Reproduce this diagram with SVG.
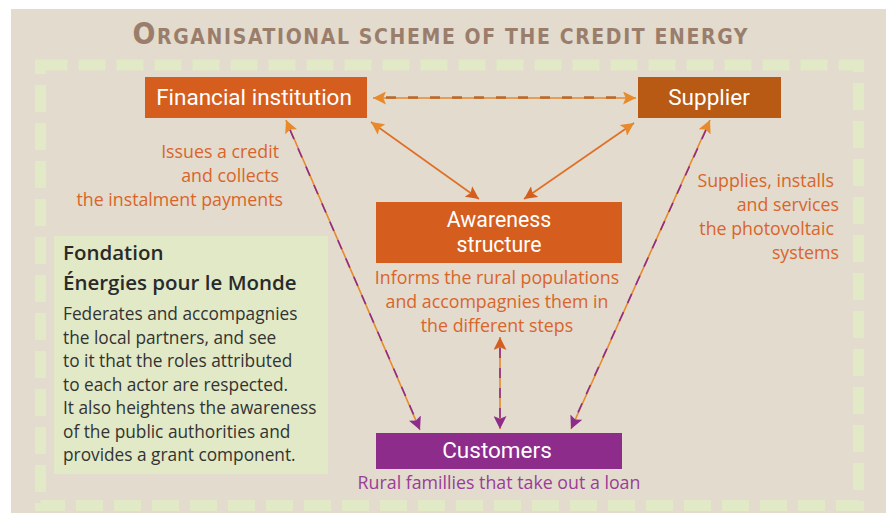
<svg xmlns="http://www.w3.org/2000/svg" width="890" height="513" viewBox="0 0 890 513">
<defs>
<style>
.lbl{font-family:Roboto,"Open Sans","Liberation Sans",sans-serif;font-size:22.5px;fill:#ffffff;text-anchor:middle}
.note{font-family:"Open Sans","Liberation Sans",sans-serif;font-size:17.8px;fill:#d9652a}
.body{font-family:"Open Sans","Liberation Sans",sans-serif;font-size:17.3px;fill:#333333}
.head{font-family:"Open Sans","Liberation Sans",sans-serif;font-size:20.5px;font-weight:600;fill:#2a2a2a}
.base{fill:none;stroke:#e8892a;stroke-width:1.6}
.pdash{fill:none;stroke:#8e2c8c;stroke-width:1.6;stroke-dasharray:10 10}
</style>
<marker id="ahO" viewBox="0 0 12 12" refX="12" refY="6" markerWidth="13" markerHeight="13" markerUnits="userSpaceOnUse" orient="auto-start-reverse"><path d="M0,0 L12,6 L0,12 L2.5,6 z" fill="#e8892a"/></marker>
<marker id="ahD" viewBox="0 0 12 12" refX="12" refY="6" markerWidth="13" markerHeight="13" markerUnits="userSpaceOnUse" orient="auto-start-reverse"><path d="M0,0 L12,6 L0,12 L2.5,6 z" fill="#d55e1e"/></marker>
<marker id="ahP" viewBox="0 0 12 12" refX="12" refY="6" markerWidth="13" markerHeight="13" markerUnits="userSpaceOnUse" orient="auto-start-reverse"><path d="M0,0 L12,6 L0,12 L2.5,6 z" fill="#8e2c8c"/></marker>
</defs>
<rect x="11" y="9" width="875" height="504" fill="#e2dbce"/>
<rect x="40.5" y="65" width="818" height="440.5" fill="none" stroke="#e1e9c6" stroke-width="11" stroke-dasharray="27 11"/>
<text x="440" y="44" text-anchor="middle" textLength="615" lengthAdjust="spacing" font-family="'Liberation Sans Narrow','DejaVu Sans Condensed',sans-serif" font-weight="bold" fill="#9a7e6b"><tspan font-size="30">O</tspan><tspan font-size="21">RGANISATIONAL SCHEME OF THE CREDIT ENERGY</tspan></text>

<g id="connectors">
<line x1="373" y1="98" x2="636" y2="98" class="base" marker-start="url(#ahO)" marker-end="url(#ahO)"/>
<line x1="386" y1="97.5" x2="624" y2="97.5" stroke="#b8682e" stroke-width="2.5" stroke-dasharray="10 12"/>
<line x1="371" y1="122" x2="479" y2="199" stroke="#df6f25" stroke-width="1.6" marker-start="url(#ahO)" marker-end="url(#ahD)"/>
<line x1="634" y1="123" x2="524" y2="199" stroke="#df6f25" stroke-width="1.6" marker-start="url(#ahO)" marker-end="url(#ahD)"/>
<line x1="286" y1="120" x2="420" y2="430" class="base" marker-start="url(#ahO)" marker-end="url(#ahP)"/>
<line x1="290" y1="130" x2="416" y2="420" class="pdash"/>
<line x1="710" y1="120" x2="571" y2="429" class="base" marker-start="url(#ahO)" marker-end="url(#ahP)"/>
<line x1="706" y1="130" x2="575" y2="419" class="pdash"/>
<line x1="500" y1="337" x2="500" y2="429" class="base" marker-start="url(#ahD)" marker-end="url(#ahP)"/>
<line x1="500" y1="348" x2="500" y2="418" class="pdash"/>
</g>

<g id="financial">
<rect x="145" y="77" width="222" height="41" fill="#d55e1e"/>
<text x="254" y="105" class="lbl">Financial institution</text>
<text class="note" text-anchor="end"><tspan x="279" y="158">Issues a credit</tspan><tspan x="279" y="182">and collects</tspan><tspan x="283" y="206">the instalment payments</tspan></text>
</g>

<g id="supplier">
<rect x="638" y="77" width="143" height="41" fill="#b85a14"/>
<text x="709" y="105" class="lbl">Supplier</text>
<text class="note" text-anchor="end"><tspan x="834" y="187">Supplies, installs</tspan><tspan x="839" y="211">and services</tspan><tspan x="834" y="235">the photovoltaic</tspan><tspan x="839" y="259">systems</tspan></text>
</g>

<g id="awareness">
<rect x="376" y="202" width="246" height="61" fill="#d55e1e"/>
<text class="lbl" style="font-size:21.3px"><tspan x="499" y="227">Awareness</tspan><tspan x="499" y="252">structure</tspan></text>
<text class="note" text-anchor="middle"><tspan x="497" y="284">Informs the rural populations</tspan><tspan x="497" y="308">and accompagnies them in</tspan><tspan x="497" y="332">the different steps</tspan></text>
</g>

<g id="customers">
<rect x="376" y="433" width="246" height="36" fill="#8e2c8c"/>
<text x="497" y="458" class="lbl">Customers</text>
<text x="499" y="489" class="note" text-anchor="middle" style="fill:#9a3d96">Rural famillies that take out a loan</text>
</g>

<g id="fondation">
<rect x="54" y="236" width="274" height="238" fill="#e1e9c6"/>
<text class="head"><tspan x="63" y="260">Fondation</tspan><tspan x="63" y="290">Énergies pour le Monde</tspan></text>
<text class="body"><tspan x="63" y="320">Federates and accompagnies</tspan><tspan x="63" y="343.5">the local partners, and see</tspan><tspan x="63" y="367">to it that the roles attributed</tspan><tspan x="63" y="390.5">to each actor are respected.</tspan><tspan x="63" y="414">It also heightens the awareness</tspan><tspan x="63" y="437.5">of the public authorities and</tspan><tspan x="63" y="461">provides a grant component.</tspan></text>
</g>
</svg>
